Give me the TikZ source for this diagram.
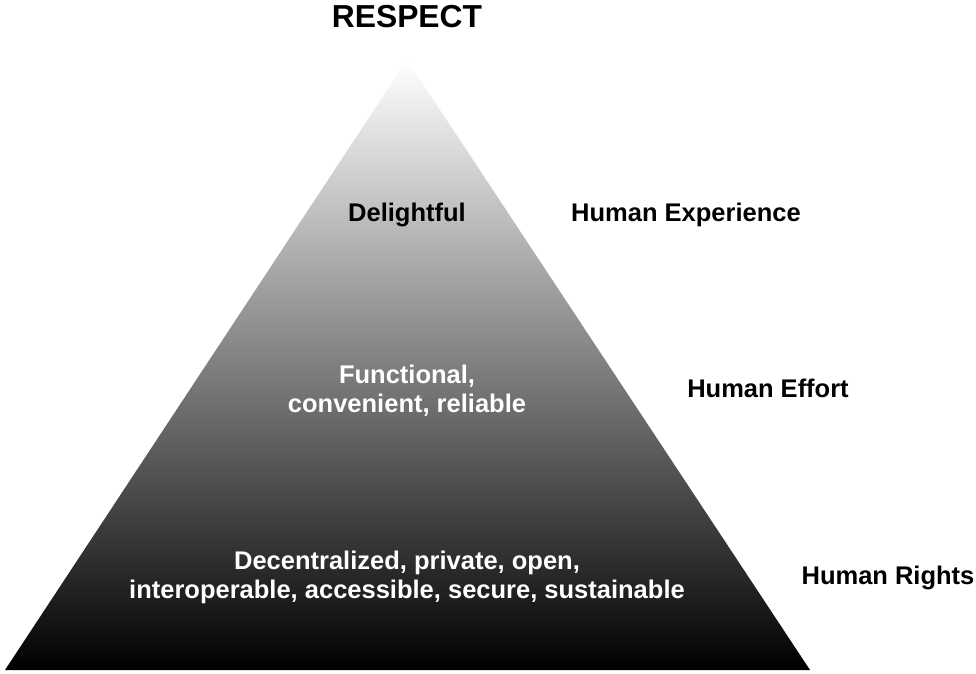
\documentclass[tikz,border=0pt]{standalone}
\usepackage{fontspec}
\setmainfont{Liberation Sans}
\begin{document}
\begin{tikzpicture}[x=1pt,y=-1pt,
  lbl/.style={font=\fontsize{25.5}{29}\selectfont\bfseries, align=center, inner sep=0pt},
  inlbl/.style={lbl, text=white}]
\useasboundingbox (0,0) rectangle (976,673);
\coordinate (apex) at (407,60);
\coordinate (bl) at (5,670);
\coordinate (br) at (810,670);
\shade[top color=white, bottom color=black] (apex) -- (br) -- (bl) -- cycle;
\node[lbl, font=\fontsize{31.8}{36}\selectfont\bfseries] (respect) at (407,17) {RESPECT};
\node[lbl] (delight) at (407,215) {Delightful};
\node[lbl] (hexp) at (686,215) {Human Experience};
\node[inlbl] (func) at (407,391) {Functional,\\convenient, reliable};
\node[lbl] (heff) at (768,388) {Human Effort};
\node[inlbl] (decent) at (407,577) {Decentralized, private, open,\\interoperable, accessible, secure, sustainable};
\node[lbl] (hrights) at (888,578) {Human Rights};
\end{tikzpicture}
\end{document}
